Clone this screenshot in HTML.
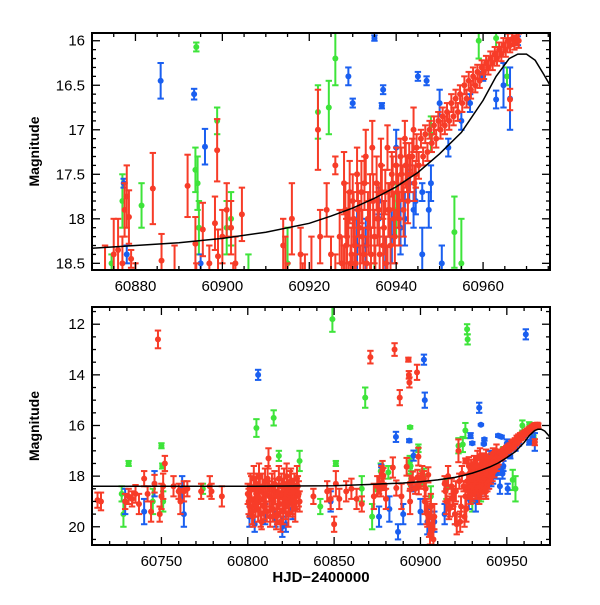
<!DOCTYPE html>
<html><head><meta charset="utf-8"><style>
body{margin:0;background:#fff}
svg text{font-family:"Liberation Sans",sans-serif;fill:#000}
</style></head><body>
<svg id="chart" width="600" height="600" viewBox="0 0 600 600" xmlns="http://www.w3.org/2000/svg">
<defs>
<clipPath id="clipTop"><rect x="92" y="33" width="458" height="237"/></clipPath>
<clipPath id="clipBot"><rect x="92" y="307" width="458" height="238"/></clipPath>
</defs>
<g id="top"></g>
<g id="bot"></g>
</svg>
<script>
const fitCurve=[[60700,18.4],[60800,18.4],[60850,18.38],[60870,18.33],[60880,18.3],[60890,18.27],[60900,18.22],[60910,18.15],[60920,18.05],[60925,17.97],[60930,17.88],[60935,17.77],[60940,17.64],[60945,17.48],[60950,17.27],[60955,17.03],[60960,16.67],[60963,16.4],[60966,16.2],[60968,16.15],[60970,16.15],[60972,16.22],[60974,16.38],[60976,16.55]];
const redPoints=[[60713,18.95,.3],[60715,19.0,.35],[60729,19.0,.3],[60731,18.8,.3],[60733,18.9,.3],[60735,18.7,.35],[60737,19.1,.4],[60740,18.1,.3],[60742,18.7,.3],[60744,19.4,.4],[60746,18.3,.35],[60748,12.6,.35],[60749,19.5,.3],[60750,18.8,.5],[60751,18.4,.5],[60752,17.5,.3],[60757,18.4,.4],[60760,18.6,.3],[60761,19.0,.5],[60763,18.6,.4],[60765,18.5,.3],[60773,18.6,.3],[60778,18.4,.4],[60779,18.6,.3],[60785,18.8,.4],
[60800,18.7,.4],[60801,19.2,.4],[60802,18.5,.5],[60803,19.6,.4],[60804,18.9,.5],[60805,18.3,.4],[60806,19.3,.5],[60807,18.6,.5],[60808,19.8,.3],[60809,18.9,.5],[60810,18.2,.5],[60811,19.4,.4],[60812,17.3,.4],[60812.5,18.8,.6],[60813,19.6,.4],[60814,18.4,.5],[60815,19.0,.6],[60816,18.6,.5],[60817,19.5,.4],[60818,18.1,.5],[60819,19.8,.4],[60820,18.7,.6],[60821,18.3,.6],[60822,19.2,.5],[60823,18.6,.6],[60824,18.9,.5],[60825,18.2,.5],[60826,19.1,.5],[60827,18.5,.6],[60828,18.8,.5],[60829,18.4,.4],[60830,19.0,.4],[60838,18.8,.3],
[60800.5,19.0,.5],[60801.5,18.4,.5],[60802.5,19.4,.5],[60803.5,18.1,.5],[60804.5,19.1,.5],[60805.5,18.8,.5],[60806.5,18.0,.5],[60807.5,19.5,.5],[60808.5,18.4,.5],[60809.5,19.2,.5],[60810.5,18.7,.5],[60811.5,18.1,.5],[60813.5,18.9,.5],[60814.5,19.3,.5],[60815.5,18.3,.5],[60816.5,19.6,.5],[60817.5,18.8,.5],[60818.5,19.1,.5],[60819.5,18.4,.5],[60820.5,19.4,.5],[60821.5,18.9,.5],[60822.5,18.0,.5],[60823.5,19.5,.5],[60824.5,18.3,.5],[60825.5,19.0,.5],[60826.5,18.6,.5],[60827.5,19.3,.5],[60828.5,18.1,.5],[60829.5,18.7,.5],
[60846,18.6,.4],[60848,18.9,.4],[60850,19.9,.3],[60851,18.3,.5],[60853,18.9,.4],[60857,18.6,.4],[60860,18.5,.4],[60863,18.9,.4],[60866,19.1,.3],[60871,13.3,.25],[60873,18.8,.5],[60875,18.4,.4],[60876,18.35,.35],[60877,18.5,.3],[60877.5,17.9,.3],[60878,17.75,.35],[60878.5,17.98,.3],[60879,18.45,.1],[60880,18.9,.4],[60884,17.66,.4],[60885,13.0,.25],[60886,18.47,.3],[60888,14.9,.3],[60889,18.8,.5],[60892,17.63,.35],[60893,13.4,.08],[60893.3,14.0,.15],[60893.6,14.3,.2],[60893.8,18.28,.3],[60894,19.0,.5],[60895.5,18.12,.3],[60897,18.5,.2],[60898,13.9,.3],[60898.3,18.05,.3],[60898.8,17.23,.35],[60899,18.42,.3],[60900,18.2,.3],[60901,17.9,.3],[60902,18.1,.3],[60903,18.5,.3],[60904,19.5,.5],[60904.5,17.95,.3],[60905,19.9,.5],[60906,19.2,.5],[60907,20.1,.4],[60908,19.6,.5],
[60902.5,19.0,.5],[60903.5,19.4,.5],[60905.5,20.3,.4],[60906.5,19.6,.5],[60907.5,20.5,.4],
[60914,18.3,.3],[60915,19.0,.5],[60916,18.0,.4],[60917,19.2,.4],[60918,18.4,.3],[60919,18.8,.4],[60920,19.5,.4],[60922,17.0,.45],[60922.5,18.2,.3],[60923,19.8,.4],[60924,17.9,.3],[60925,18.4,.2],[60926,17.4,.1],[60926.5,19.3,.5],
[60914.5,18.6,.4],[60916.5,19.3,.4],[60918.5,18.9,.4],[60920.5,18.6,.4],[60921,19.9,.4],[60923.5,19.2,.4],[60925.5,19.6,.4],[60926,18.8,.4],
[60927,18.2,.3],[60927.5,18.5,.3],[60928,17.6,.35],[60928.5,18.3,.3],[60929,18.0,.3],[60929.5,18.5,.2],[60930,17.8,.3],[60930,18.7,.3],[60930.5,18.3,.3],[60931,17.5,.3],[60931.5,18.1,.3],[60932,17.7,.35],[60932.5,18.4,.3],[60933,17.3,.3],[60933.5,18.0,.3],[60934,17.8,.3],[60934,18.8,.3],[60934.5,17.2,.3],[60935,18.2,.3],[60935.5,17.6,.3],[60936,17.9,.3],[60936.5,17.4,.3],[60937,18.3,.3],[60937.5,17.7,.25],[60938,17.2,.25],[60938,18.6,.3],[60938.5,17.9,.3],[60939,17.5,.25],[60939.5,18.0,.3],[60940,17.4,.2],[60940.5,17.8,.3],[60941,17.3,.2],[60941.5,17.6,.2],[60942,17.1,.2],[60942.5,17.5,.2],[60943,17.3,.15],[60944,17.0,.25],[60944.5,17.5,.15],
[60928,18.6,.3],[60928.3,17.9,.3],[60928.7,18.2,.3],[60929,18.8,.3],[60929.3,17.7,.35],[60929.7,18.4,.3],[60930.2,18.0,.3],[60930.7,18.5,.3],[60931.2,17.9,.3],[60931.7,18.6,.3],[60932.2,18.2,.3],[60932.7,17.6,.3],[60933.2,18.5,.3],[60933.7,18.1,.3],[60934.2,18.4,.3],[60934.7,17.8,.3],[60935.2,18.6,.3],[60935.7,18.0,.3],[60936.2,18.4,.3],[60936.7,17.7,.3],[60937.2,18.1,.3],[60937.7,18.5,.3],[60938.2,17.9,.3],[60938.7,18.3,.3],[60939.2,17.6,.3],[60939.7,18.2,.3],[60940.2,17.7,.3],[60940.7,18.0,.3],[60941.2,17.5,.3],[60941.7,17.9,.3],[60942.2,17.4,.25],[60942.7,17.8,.25],[60943.2,17.5,.2],[60943.7,17.3,.2],[60944.2,17.6,.2],[60944.7,17.2,.15],[60945.2,17.4,.15],[60945.7,17.1,.1],[60946.2,17.3,.1],[60946.7,17.05,.1],[60947.2,17.25,.1],[60947.7,17.0,.1],[60948.2,17.15,.1],[60948.7,16.95,.1],[60949.2,17.1,.1],[60949.7,16.9,.1],[60950.2,17.0,.1],[60950.7,16.85,.1],[60951.2,16.95,.1],[60951.7,16.8,.1],[60952.2,16.9,.1],[60952.7,16.7,.1],[60953.2,16.85,.1],[60953.7,16.65,.1],[60954.2,16.8,.1],[60954.7,16.6,.1],[60955.2,16.7,.1],[60955.7,16.5,.1],[60956.2,16.65,.1],[60956.7,16.45,.1],[60957.2,16.55,.1],[60957.7,16.4,.1],[60958.2,16.5,.08],[60958.7,16.35,.08],[60959.2,16.45,.08],[60959.7,16.3,.08],[60960.2,16.35,.08],[60960.7,16.25,.08],[60961.2,16.3,.08],[60961.7,16.2,.08],[60962.2,16.25,.08],[60962.7,16.15,.08],[60963.2,16.2,.08],[60963.7,16.1,.08],[60964.2,16.15,.08],[60964.7,16.05,.08],[60965.2,16.1,.08],[60965.7,16.0,.08],[60966.2,16.66,.12],[60966.2,16.05,.08],[60966.7,15.98,.08],[60967.2,16.02,.08],[60967.7,15.97,.08],[60968.2,16.0,.08]];
const bluePoints=[[60729,19.0,.5],[60740,19.4,.5],[60746,18.3,.5],[60762,18.5,.5],[60763,19.5,.5],[60801,19.6,.4],[60804,19.9,.3],[60806,14.0,.2],[60810,19.5,.4],[60816,19.7,.3],[60820,20.0,.4],[60822,19.9,.3],[60826,19.3,.4],[60848,19.0,.4],[60876,19.6,.4],[60877.3,17.6,.05],[60878,18.4,.1],[60882,19.3,.5],[60885.8,16.45,.2],[60887,20.2,.3],[60890,19.5,.4],[60893.5,16.6,.06],[60895,18.5,.1],[60896,17.19,.2],[60900,19.4,.5],[60902,13.4,.2],[60902.5,15.0,.3],[60904,19.8,.5],[60908,19.8,.4],[60914,19.5,.4],[60920,19.5,.4],[60928,18.9,.4],[60929,16.4,.1],[60930,16.7,.05],[60931,18.3,.4],[60932,19.0,.4],[60933,18.3,.3],[60934,15.3,.2],[60935,15.97,.03],[60936,17.8,.15],[60936,18.0,.2],[60936.7,16.73,.03],[60937,16.55,.05],[60937.5,18.5,.3],[60939,18.2,.3],[60940,17.2,.2],[60941,18.1,.3],[60942,18.0,.3],[60943,17.6,.2],[60944,17.9,.2],[60944.5,17.8,.15],[60945,16.4,.05],[60946,18.4,.3],[60946,17.7,.1],[60947,16.45,.05],[60947.5,17.9,.2],[60948,17.6,.2],[60950,16.7,.15],[60950.5,18.5,.2],[60952,17.2,.1],[60955,16.9,.1],[60957,16.7,.1],[60960,16.4,.05],[60961,12.4,.2],[60963,16.66,.1],[60964.7,16.5,.25],[60966.2,16.65,.35],[60968,16.0,.05]];
const greenPoints=[[60727,18.7,.3],[60728,19.5,.5],[60731,17.5,.1],[60745,19.0,.5],[60750,16.8,.1],[60750.5,17.6,.1],[60751,19.0,.4],[60774,18.5,.2],[60805,16.1,.35],[60815,15.7,.3],[60818,17.2,.2],[60830,17.4,.4],[60842,19.2,.3],[60849,11.8,.5],[60851,17.5,.1],[60866,18.5,.5],[60868,14.9,.4],[60872,19.6,.5],[60874.5,18.5,.1],[60877,17.8,.3],[60881.4,17.85,.25],[60893.8,17.45,.25],[60894,16.07,.05],[60894.3,17.6,.3],[60894.6,18.1,.3],[60898.8,16.9,.15],[60901,18.1,.3],[60902,18.0,.3],[60906,18.8,.4],[60915,18.5,.4],[60922,16.8,.3],[60924.5,16.75,.3],[60926,16.2,.3],[60927,12.2,.2],[60927.3,12.6,.2],[60930,19.0,.4],[60935,18.6,.4],[60940,17.9,.3],[60948,17.05,.2],[60953.4,18.15,.4],[60955,18.5,.5],[60959,16.0,.2],[60963,15.97,.1],[60965.5,16.4,.1]];
const topXTicks=[60880,60900,60920,60940,60960];
const topYTicks=[16,16.5,17,17.5,18,18.5];
const botXTicks=[60750,60800,60850,60900,60950];
const botYTicks=[12,14,16,18,20];

const NS='http://www.w3.org/2000/svg';
function mk(parent,tag,attrs){const e=document.createElementNS(NS,tag);for(const k in attrs)e.setAttribute(k,attrs[k]);parent.appendChild(e);return e;}
const panels=[
 {g:document.getElementById('top'),clip:'clipTop',x0:60870,x1:60975.4,y0:15.913,y1:18.575,L:92,R:550,T:33,B:270,xt:topXTicks,yt:topYTicks,xm:5,ym:0.1,name:'top'},
 {g:document.getElementById('bot'),clip:'clipBot',x0:60709.8,x1:60975,y0:11.32,y1:20.72,L:92,R:550,T:307,B:545,xt:botXTicks,yt:botYTicks,xm:10,ym:0.5,name:'bottom'}];
const series=[['green','#3ee43a',greenPoints],['blue','#1a5ff0',bluePoints],['red','#f73c28',redPoints]];
panels.forEach(p=>{
 const sx=v=>p.L+(v-p.x0)/(p.x1-p.x0)*(p.R-p.L);
 const sy=v=>p.T+(v-p.y0)/(p.y1-p.y0)*(p.B-p.T);
 const data=mk(p.g,'g',{'clip-path':'url(#'+p.clip+')'});
 
 
 series.forEach(([nm,col,pts])=>{
  const sg=mk(data,'g',{stroke:col,fill:col,'stroke-width':2});
  
  
  pts.forEach(d=>{
   const x=sx(d[0]),y=sy(d[1]),ya=sy(d[1]-d[2]),yb=sy(d[1]+d[2]);
   mk(sg,'line',{x1:x,x2:x,y1:ya,y2:yb});
   mk(sg,'line',{x1:x-3.2,x2:x+3.2,y1:ya,y2:ya});
   mk(sg,'line',{x1:x-3.2,x2:x+3.2,y1:yb,y2:yb});
   const c=mk(sg,'circle',{cx:x,cy:y,r:3,stroke:'none'});
   
   
  });
 });
 const path=fitCurve.map((d,i)=>(i?'L':'M')+sx(d[0]).toFixed(1)+','+sy(d[1]).toFixed(1)).join('');
 const fc=mk(data,'path',{d:path,fill:'none',stroke:'#000','stroke-width':1.5});
 
 
 const ax=mk(p.g,'g',{stroke:'#000','stroke-width':1.3});
 
 
 for(let v=Math.ceil(p.x0/p.xm)*p.xm;v<=p.x1;v+=p.xm){
  const x=sx(v),maj=p.xt.includes(v),l=maj?8:4;
  mk(ax,'line',{x1:x,x2:x,y1:p.B,y2:p.B-l});mk(ax,'line',{x1:x,x2:x,y1:p.T,y2:p.T+l});
 }
 const n0=Math.ceil(p.y0/p.ym-1e-6),n1=Math.floor(p.y1/p.ym+1e-6);
 for(let n=n0;n<=n1;n++){
  const v=+(n*p.ym).toFixed(3),y=sy(v),maj=p.yt.some(t=>Math.abs(t-v)<1e-6),l=maj?8:4;
  mk(ax,'line',{x1:p.L,x2:p.L+l,y1:y,y2:y});mk(ax,'line',{x1:p.R,x2:p.R-l,y1:y,y2:y});
 }
 const fr=mk(p.g,'rect',{x:p.L,y:p.T,width:p.R-p.L,height:p.B-p.T,fill:'none',stroke:'#000','stroke-width':2});
 
 
 p.xt.forEach(v=>{const t=mk(p.g,'text',{x:sx(v),y:p.B+21,'text-anchor':'middle','font-size':15});t.textContent=String(v);
  });
 p.yt.forEach(v=>{const t=mk(p.g,'text',{x:p.L-7,y:sy(v)+5,'text-anchor':'end','font-size':15});t.textContent=String(v);
  });
 const cy=(p.T+p.B)/2;
 const yl=mk(p.g,'text',{x:0,y:0,transform:'translate(39,'+cy+') rotate(-90)','text-anchor':'middle','font-size':14,'font-weight':'bold'});
 yl.textContent='Magnitude';
 
 
});
const xl=mk(document.getElementById('bot'),'text',{x:321,y:582,'text-anchor':'middle','font-size':15,'font-weight':'bold'});
xl.textContent='HJD\u22122400000';


</script>
</body></html>
